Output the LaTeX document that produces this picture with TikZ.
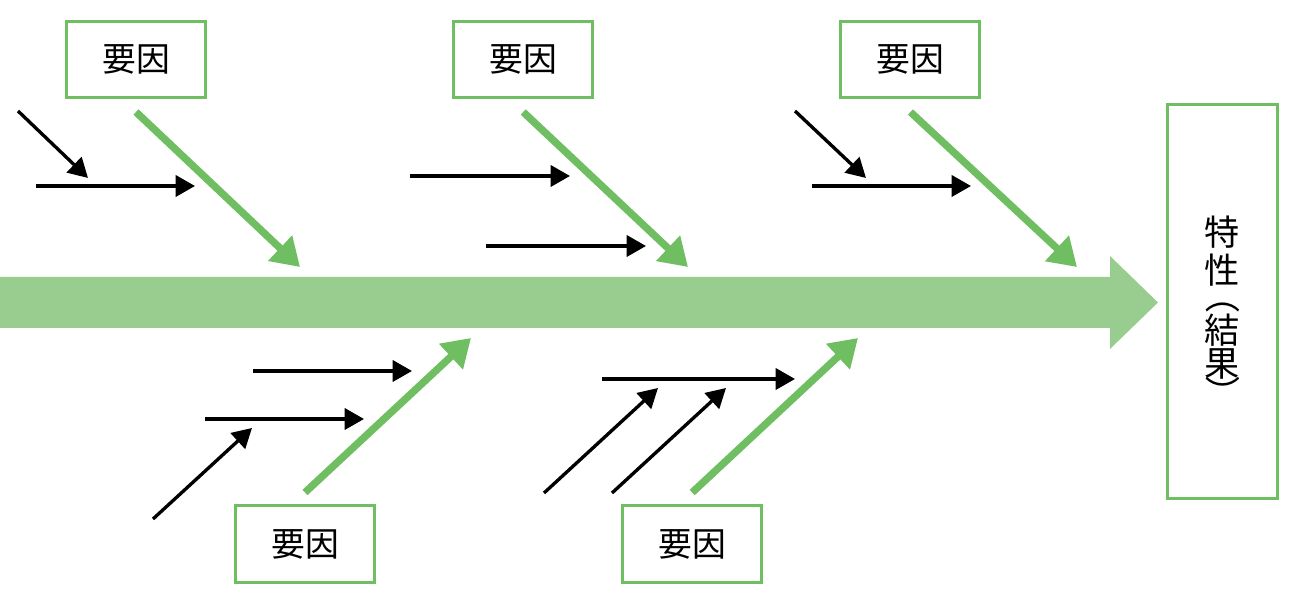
\documentclass[tikz,border=0pt]{standalone}
\usepackage{fontspec}
\setmainfont{Noto Sans CJK JP}
\usetikzlibrary{arrows.meta,positioning}
\definecolor{boxgreen}{RGB}{112,190,98}
\definecolor{spinegreen}{RGB}{153,205,143}
\newcommand{\vparen}[1]{\smash{\rotatebox[origin=c]{-90}{#1}}}
\tikzset{
    %Define standard arrow tip
    >={Triangle[length=5.5pt,width=6pt]},
    %Define style for boxes
    cause/.style={
           rectangle,
           draw=boxgreen, line width=0.85pt,
           minimum width=1.39cm,
           minimum height=0.76cm,
           font=\fontsize{9.6}{11}\selectfont,
           text centered},
    effect/.style={
           rectangle,
           draw=boxgreen, line width=0.85pt,
           minimum width=1.10cm,
           minimum height=3.94cm,
           font=\fontsize{10}{9.6}\selectfont,
           align=center},
    % Define arrow style
    bone/.style={
           -{Triangle[length=7.8pt,width=9.5pt]},
           draw=boxgreen, line width=2.1pt},
    sub/.style={
           ->,
           line width=0.95pt}
}
\begin{document}
\begin{tikzpicture}[x=0.01cm,y=-0.01cm,node distance=2.45cm]
\useasboundingbox (0,0) rectangle (1300,601);

 %nodes
\node[cause] (c1) at (136,59.5) {要因};
\node[cause, right=of c1] (c2) {要因};
\node[cause, right=of c2] (c3) {要因};
\node[cause] (c4) at (305,544) {要因};
\node[cause, right=of c4] (c5) {要因};
\node[effect] (eff) at (1222.5,301.5)
    {\mbox{}\\[4.4pt]特\\[1.2pt]性\\[-2.2pt]\vparen{（}\\結\\果\\[-1.1pt]\vparen{）}};

 %spine
\fill[spinegreen] (0,277) -- (1110,277) -- (1110,256) -- (1158,302.5)
    -- (1110,349) -- (1110,328) -- (0,328) -- cycle;

 %bones
\coordinate (t1) at (300,267);
\coordinate (t2) at (688,267);
\coordinate (t3) at (1077,267);
\coordinate (t4) at (471,338);
\coordinate (t5) at (858,338);
\draw[bone] ([yshift=-0.13cm]c1.south) -- (t1);
\draw[bone] ([yshift=-0.13cm]c2.south) -- (t2);
\draw[bone] ([yshift=-0.13cm]c3.south) -- (t3);
\draw[bone] ([yshift=0.12cm]c4.north) -- (t4);
\draw[bone] ([yshift=0.12cm]c5.north) -- (t5);

 %small causes
\coordinate (a1) at (18,111);   \coordinate (a2) at (88,178);
\coordinate (b1) at (36,186);   \coordinate (b2) at (195,186);
\coordinate (d1) at (410,176);  \coordinate (d2) at (570,176);
\coordinate (e1) at (486,246);  \coordinate (e2) at (646,246);
\coordinate (f1) at (795,111);  \coordinate (f2) at (866,178);
\coordinate (g1) at (812,186);  \coordinate (g2) at (971,186);
\coordinate (h1) at (253,371);  \coordinate (h2) at (412,371);
\coordinate (i1) at (205,419);  \coordinate (i2) at (364,419);
\coordinate (j1) at (153,519);  \coordinate (j2) at (252,428);
\coordinate (k1) at (602,379);  \coordinate (k2) at (795,379);
\coordinate (l1) at (544,493);  \coordinate (l2) at (658,388);
\coordinate (m1) at (612,493);  \coordinate (m2) at (726,388);
\path[sub]
    (a1) edge (a2)
    (b1) edge (b2)
    (d1) edge (d2)
    (e1) edge (e2)
    (f1) edge (f2)
    (g1) edge (g2)
    (h1) edge (h2)
    (i1) edge (i2)
    (j1) edge (j2)
    (k1) edge (k2)
    (l1) edge (l2)
    (m1) edge (m2);
\end{tikzpicture}
\end{document}
